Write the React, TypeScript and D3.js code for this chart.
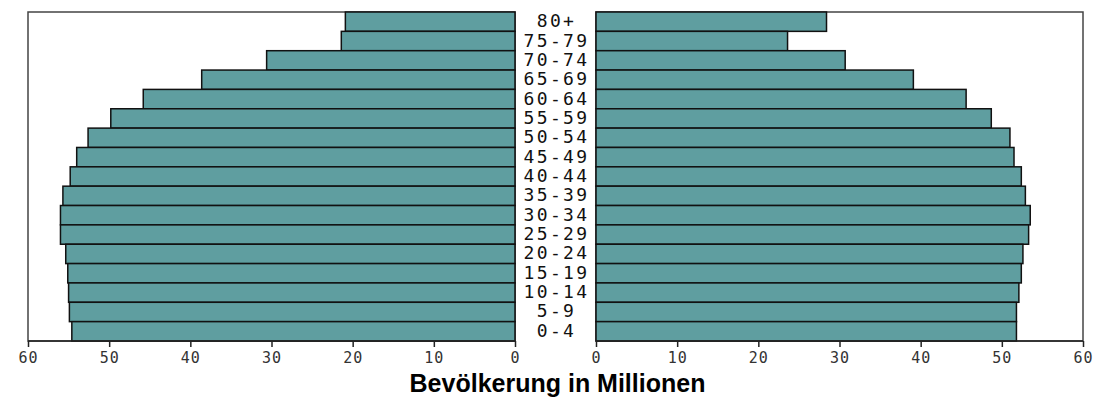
import React, { useEffect, useRef } from "react";
import * as d3 from "d3";

const ageGroups = ["80+", "75-79", "70-74", "65-69", "60-64", "55-59", "50-54", "45-49", "40-44", "35-39", "30-34", "25-29", "20-24", "15-19", "10-14", "5-9", "0-4"];
const leftValues = [20.9, 21.4, 30.6, 38.6, 45.8, 49.8, 52.6, 54.0, 54.8, 55.7, 56.0, 56.0, 55.35, 55.1, 55.0, 54.9, 54.6];
const rightValues = [28.4, 23.6, 30.7, 39.1, 45.6, 48.7, 51.0, 51.5, 52.4, 52.9, 53.5, 53.3, 52.6, 52.4, 52.1, 51.8, 51.8];
const tickValues = [0, 10, 20, 30, 40, 50, 60];
const axisTitle = "Bevölkerung in Millionen";

const W = 1093;
const H = 398;
const TOP = 12;
const BOTTOM = 341;
const L0 = 515;
const L60 = 28;
const R0 = 596;
const R60 = 1083;
const FILL = "#5F9EA0";
const MONO = "'DejaVu Sans Mono', 'Liberation Mono', monospace";

export default function App() {
  const axL = useRef<SVGGElement>(null);
  const axR = useRef<SVGGElement>(null);

  const xL = d3.scaleLinear().domain([0, 60]).range([L0, L60]);
  const xR = d3.scaleLinear().domain([0, 60]).range([R0, R60]);
  const y = d3.scaleBand<string>().domain(ageGroups).range([TOP, BOTTOM]).padding(0);

  useEffect(() => {
    const style = (g: d3.Selection<SVGGElement, unknown, null, undefined>) => {
      g.select(".domain").remove();
      g.selectAll(".tick line").attr("stroke", "#222").attr("stroke-width", 1.5);
      g.selectAll(".tick text")
        .attr("font-family", MONO)
        .attr("font-size", 15)
        .attr("fill", "#333")
        .attr("letter-spacing", 1)
        .attr("dy", "0.85em");
    };
    if (axL.current) {
      const g = d3.select(axL.current);
      g.call(d3.axisBottom(xL).tickValues(tickValues).tickSize(6).tickPadding(3).tickFormat(d3.format("d")) as any);
      style(g);
    }
    if (axR.current) {
      const g = d3.select(axR.current);
      g.call(d3.axisBottom(xR).tickValues(tickValues).tickSize(6).tickPadding(3).tickFormat(d3.format("d")) as any);
      style(g);
    }
  }, []);

  const bh = y.bandwidth();

  return (
    <svg width={W} height={H} style={{ position: "absolute", left: 0, top: 0, background: "#fff" }}>
      <rect x={L60} y={TOP} width={L0 - L60} height={BOTTOM - TOP} fill="none" stroke="#444" strokeWidth={1.5} />
      <rect x={R0} y={TOP} width={R60 - R0} height={BOTTOM - TOP} fill="none" stroke="#444" strokeWidth={1.5} />
      {ageGroups.map((a, i) => (
        <rect key={"l" + a} x={xL(leftValues[i])} y={y(a)!} width={xL(0) - xL(leftValues[i])} height={bh}
          fill={FILL} stroke="#111" strokeWidth={1.5} />
      ))}
      {ageGroups.map((a, i) => (
        <rect key={"r" + a} x={xR(0)} y={y(a)!} width={xR(rightValues[i]) - xR(0)} height={bh}
          fill={FILL} stroke="#111" strokeWidth={1.5} />
      ))}
      <line x1={L60} x2={L0} y1={BOTTOM} y2={BOTTOM} stroke="#222" strokeWidth={1.5} />
      <line x1={R0} x2={R60} y1={BOTTOM} y2={BOTTOM} stroke="#222" strokeWidth={1.5} />
      {ageGroups.map((a) => (
        <text key={"t" + a} x={(L0 + R0) / 2 + 1} y={y(a)! + bh / 2 - 1} textAnchor="middle" dominantBaseline="central"
          fontFamily={MONO} fontSize={18} letterSpacing={2.4} fill="#111">
          {a}
        </text>
      ))}
      <g ref={axL} transform={`translate(0,${BOTTOM})`} />
      <g ref={axR} transform={`translate(0,${BOTTOM})`} />
      <text x={(L0 + R0) / 2 + 2} y={392} textAnchor="middle" fontFamily="'Liberation Sans', Arial, sans-serif"
        fontWeight="bold" fontSize={25} fill="#000">
        {axisTitle}
      </text>
    </svg>
  );
}
